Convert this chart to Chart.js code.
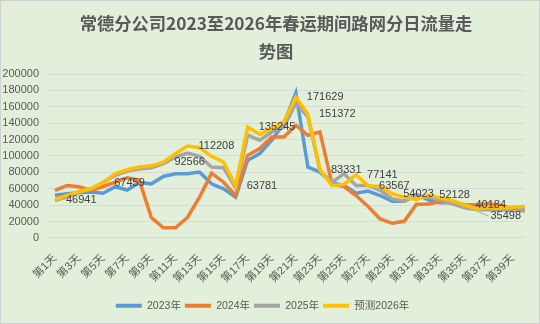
<!DOCTYPE html>
<html>
<head>
<meta charset="utf-8">
<script src="https://cdn.jsdelivr.net/npm/chart.js@4.4.0/dist/chart.umd.min.js"></script>
<style>
    html, body { margin: 0; padding: 0; background: #ffffff; }
    #box { width: 540px; height: 324px; }
</style>
</head>
<body>
<div id="box"><canvas id="flowChart" width="540" height="324"></canvas></div>
<script>
// categories (40 days of the spring festival travel season)
var days = ['第1天', '第2天', '第3天', '第4天', '第5天', '第6天', '第7天', '第8天', '第9天', '第10天',
    '第11天', '第12天', '第13天', '第14天', '第15天', '第16天', '第17天', '第18天', '第19天', '第20天',
    '第21天', '第22天', '第23天', '第24天', '第25天', '第26天', '第27天', '第28天', '第29天', '第30天',
    '第31天', '第32天', '第33天', '第34天', '第35天', '第36天', '第37天', '第38天', '第39天', '第40天'];

// daily flow
var flow2023 = [52000, 54000, 55000, 56000, 54500, 62500, 58500, 67500, 66000, 75000,
    78400, 78400, 80400, 66000, 60000, 49700, 94700, 102900, 119200, 139600,
    177100, 86500, 80400, 67000, 64000, 54600, 57100, 51800, 44800, 44800,
    53000, 46500, 42900, 43600, 39600, 36700, 35900, 35900, 35100, 35900];
var flow2024 = [58000, 64000, 62500, 58000, 62800, 68000, 73500, 70500, 25000, 12500,
    12500, 25000, 49700, 79000, 68000, 51800, 100800, 109000, 123200, 123200,
    137500, 125300, 129300, 66000, 62800, 51800, 38300, 23200, 17900, 20300,
    40800, 41500, 44200, 42400, 40800, 40400, 41600, 39600, 35500, 33000];
var flow2025 = [45700, 49700, 55800, 60000, 68000, 76300, 81600, 84000, 85500, 90600,
    98500, 103600, 99600, 86500, 85700, 61000, 125300, 119200, 129300, 135500,
    164100, 147700, 82400, 68000, 78400, 64000, 64000, 58000, 47800, 44800,
    51800, 49700, 46500, 41600, 36700, 34300, 34300, 34300, 33500, 34300];
var forecast2026 = [46941, 51800, 56700, 60000, 67459, 78400, 83300, 86500, 88000, 92566,
    103000, 112208, 110200, 99600, 92600, 63781, 135245, 126500, 133500, 141600,
    171629, 151372, 83331, 64000, 65300, 77141, 63567, 62800, 54023, 49700,
    46900, 52128, 49000, 45700, 40184, 35498, 36800, 36700, 37500, 38300];

// days whose 2026 value is printed on the chart
var labelDays = [1, 5, 10, 12, 16, 17, 21, 22, 23, 26, 27, 29, 32, 35, 36];

var titleLines = ['常德分公司2023至2026年春运期间路网分日流量走', '势图'];
var seriesNames = ['2023年', '2024年', '2025年', '预测2026年'];
var seriesColors = ['#5B9BD5', '#ED7D31', '#A5A5A5', '#FFC000'];

var numFont = '"Liberation Sans", "Noto Sans CJK SC", sans-serif';

// light green background with a thin frame
var background = {
    id: 'background',
    beforeDraw: function (chart) {
        var ctx = chart.ctx;
        ctx.save();
        ctx.fillStyle = '#E2EFDA';
        ctx.fillRect(0, 0, chart.width, chart.height);
        ctx.strokeStyle = '#d0d0d0';
        ctx.lineWidth = 1;
        ctx.strokeRect(0.5, 0.5, chart.width - 1, chart.height - 1);
        ctx.restore();
    }
};

// title drawn by hand: the built-in one can only centre on the padded box,
// the original sits a bit right of the middle
var titleText = {
    id: 'titleText',
    afterDraw: function (chart) {
        var ctx = chart.ctx;
        ctx.save();
        ctx.font = 'bold 17.3px "Noto Sans CJK SC", sans-serif';
        ctx.fillStyle = '#595959';
        ctx.textAlign = 'center';
        ctx.textBaseline = 'middle';
        titleLines.forEach(function (t, i) {
            ctx.fillText(t, 276, 23 + i * 28.5);
        });
        ctx.restore();
    }
};

// value labels on the forecast line
var pointLabels = {
    id: 'pointLabels',
    afterDatasetsDraw: function (chart) {
        var meta = chart.getDatasetMeta(3);
        var ctx = chart.ctx;
        ctx.save();
        ctx.font = '11px ' + numFont;
        ctx.fillStyle = '#404040';
        ctx.textBaseline = 'middle';
        labelDays.forEach(function (d) {
            var pt = meta.data[d - 1];
            var dx = 11, dy = 0;
            if (d === 36) {
                // this one was dragged down in the original, with a leader line
                dx = 14; dy = 7;
                ctx.strokeStyle = '#a6a6a6';
                ctx.lineWidth = 1;
                ctx.beginPath();
                ctx.moveTo(pt.x + 2, pt.y + 3);
                ctx.lineTo(pt.x + 12, pt.y + 7);
                ctx.stroke();
            }
            ctx.fillText(String(forecast2026[d - 1]), pt.x + dx, pt.y + dy);
        });
        ctx.restore();
    }
};

function makeSet(i, values, order) {
    return {
        label: seriesNames[i],
        data: values,
        borderColor: seriesColors[i],
        backgroundColor: seriesColors[i],
        borderWidth: 3.5,
        pointRadius: 0,
        tension: 0,
        order: order
    };
}

var ctx = document.getElementById('flowChart');
var chart = new Chart(ctx, {
    type: 'line',
    data: {
        labels: days,
        datasets: [
            makeSet(0, flow2023, 3),
            makeSet(1, flow2024, 2),
            makeSet(2, flow2025, 1),
            makeSet(3, forecast2026, 0)
        ]
    },
    options: {
        responsive: false,
        animation: false,
        // top padding leaves room for the hand drawn title
        layout: { padding: { left: 0, right: 15, top: 74, bottom: 3 } },
        plugins: {
            title: { display: false },
            legend: {
                position: 'bottom',
                labels: {
                    color: '#595959',
                    font: { family: numFont, size: 10.5 },
                    boxWidth: 26,
                    boxHeight: 4,
                    padding: 4,
                    generateLabels: function (c) {
                        var items = Chart.defaults.plugins.legend.labels.generateLabels(c);
                        items.forEach(function (it) { it.lineWidth = 0; });
                        return items;
                    },
                    sort: function (a, b) { return a.datasetIndex - b.datasetIndex; }
                }
            },
            tooltip: { enabled: false }
        },
        scales: {
            x: {
                grid: { display: false },
                border: { color: '#d9d9d9' },
                afterFit: function (s) { s.height += 5; },
                ticks: {
                    autoSkip: false,
                    maxRotation: 45,
                    minRotation: 45,
                    padding: 6,
                    color: '#595959',
                    font: { family: numFont, size: 11 },
                    callback: function (v, i) { return i % 2 === 0 ? days[i] : ''; }
                }
            },
            y: {
                min: 0,
                max: 200000,
                afterFit: function (s) { s.width = 55; },
                grid: { color: '#d9d9d9' },
                border: { display: false },
                ticks: {
                    stepSize: 20000,
                    color: '#595959',
                    padding: 8,
                    font: { family: numFont, size: 11 },
                    callback: function (v) { return String(v); }
                }
            }
        }
    },
    plugins: [background, pointLabels, titleText]
});
</script>
</body>
</html>
